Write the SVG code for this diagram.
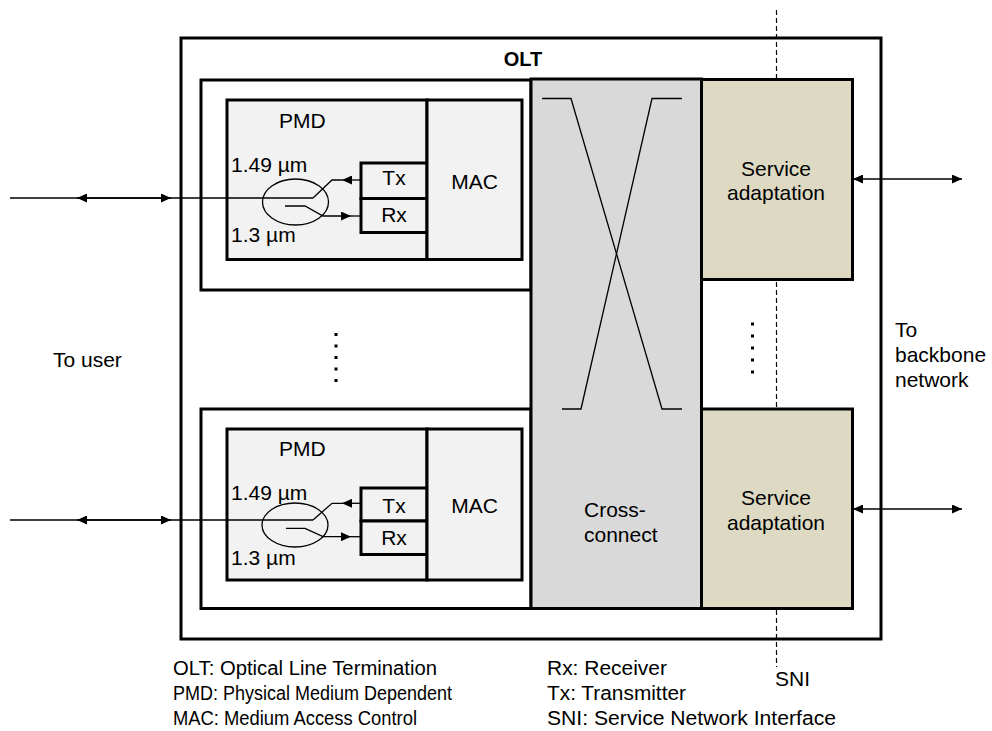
<svg xmlns="http://www.w3.org/2000/svg" width="992" height="731" viewBox="0 0 992 731">
  <defs>
    <style>
      text { font-family: "Liberation Sans", Arial, sans-serif; font-size: 21px; fill: #000; }
      .legend { font-size: 20px; }
      .bold { font-weight: bold; font-size: 20px; }
      .thick { stroke: #000; stroke-width: 3; }
      .thin { fill: none; stroke: #000; stroke-width: 1.3; }
      .white { fill: #fff; }
      .pale { fill: #f2f2f2; }
      .grey { fill: #d9d9d9; }
      .tan { fill: #ddd9c3; }
      .dash { fill: none; stroke: #000; stroke-width: 1.2; stroke-dasharray: 5 3; }
      .arr { fill: none; stroke: #000; stroke-width: 1.3; marker-end: url(#head); }
      .arr2 { fill: none; stroke: #000; stroke-width: 1.3; marker-start: url(#head); marker-end: url(#head); }
    </style>
    <marker id="head" viewBox="0 0 10 10" refX="10" refY="5" markerWidth="10" markerHeight="9" markerUnits="userSpaceOnUse" orient="auto-start-reverse" preserveAspectRatio="none">
      <path d="M0,0 L10,5 L0,10 z" fill="#000"/>
    </marker>
  </defs>

  <!-- OLT enclosure -->
  <g id="olt">
    <rect x="181" y="38" width="700" height="601" class="white thick"/>
    <text x="523" y="66" text-anchor="middle" class="bold">OLT</text>
  </g>

  <!-- SNI reference line -->
  <g id="sni">
    <line x1="776.5" y1="10" x2="776.5" y2="667" class="dash"/>
    <text x="775" y="686">SNI</text>
  </g>

  <!-- Line card 1 -->
  <g id="linecard-1">
    <rect x="201" y="80" width="330" height="210" class="white thick"/>
    <g id="pmd-1">
      <rect x="227" y="100" width="200" height="159.5" class="pale thick"/>
      <text x="279" y="128">PMD</text>
      <text x="231" y="172">1.49 µm</text>
      <text x="231" y="242">1.3 µm</text>
      <ellipse cx="295.5" cy="202" rx="33" ry="23" class="thin"/>
    </g>
    <g id="tx-1">
      <rect x="361" y="163" width="66" height="35.5" class="pale thick"/>
      <text x="394" y="185" text-anchor="middle">Tx</text>
    </g>
    <g id="rx-1">
      <rect x="361" y="198.5" width="66" height="34" class="pale thick"/>
      <text x="394" y="222" text-anchor="middle">Rx</text>
    </g>
    <g id="mac-1">
      <rect x="427" y="100" width="95" height="159.5" class="pale thick"/>
      <text x="474.5" y="189" text-anchor="middle">MAC</text>
    </g>
  </g>

  <!-- Line card 2 -->
  <g id="linecard-2">
    <rect x="201" y="409" width="330" height="199.5" class="white thick"/>
    <g id="pmd-2">
      <rect x="227" y="429" width="200" height="151" class="pale thick"/>
      <text x="279" y="456">PMD</text>
      <text x="231" y="500">1.49 µm</text>
      <text x="231" y="565">1.3 µm</text>
      <ellipse cx="295" cy="525" rx="33" ry="22" class="thin"/>
    </g>
    <g id="tx-2">
      <rect x="361" y="488" width="66" height="33" class="pale thick"/>
      <text x="394" y="513" text-anchor="middle">Tx</text>
    </g>
    <g id="rx-2">
      <rect x="361" y="521" width="66" height="33.5" class="pale thick"/>
      <text x="394" y="545" text-anchor="middle">Rx</text>
    </g>
    <g id="mac-2">
      <rect x="427" y="429" width="95" height="151" class="pale thick"/>
      <text x="474.5" y="513" text-anchor="middle">MAC</text>
    </g>
  </g>

  <!-- Cross-connect -->
  <g id="crossconnect">
    <rect x="531" y="79" width="170.5" height="529.5" class="grey thick"/>
    <path d="M542,98.5 H571 L662,409 H682" class="thin"/>
    <path d="M682,98.5 H652 L581,409 H562" class="thin"/>
    <text x="584" y="517">Cross-</text>
    <text x="584" y="542">connect</text>
  </g>

  <!-- Service adaptation blocks -->
  <g id="service-adaptation-1">
    <rect x="701.5" y="79.5" width="151" height="200" class="tan thick"/>
    <text x="776" y="176" text-anchor="middle">Service</text>
    <text x="776" y="200" text-anchor="middle">adaptation</text>
  </g>
  <g id="service-adaptation-2">
    <rect x="701.5" y="409" width="151" height="199.5" class="tan thick"/>
    <text x="776" y="505" text-anchor="middle">Service</text>
    <text x="776" y="530" text-anchor="middle">adaptation</text>
  </g>

  <!-- Continuation dots -->
  <g id="dots-left" fill="#000">
    <rect x="334.5" y="333" width="3" height="3"/>
    <rect x="334.5" y="344.5" width="3" height="3"/>
    <rect x="334.5" y="356" width="3" height="3"/>
    <rect x="334.5" y="367.5" width="3" height="3"/>
    <rect x="334.5" y="379" width="3" height="3"/>
  </g>
  <g id="dots-right" fill="#000">
    <rect x="751" y="322.5" width="3" height="3"/>
    <rect x="751" y="334.5" width="3" height="3"/>
    <rect x="751" y="346.5" width="3" height="3"/>
    <rect x="751" y="358.5" width="3" height="3"/>
    <rect x="751" y="370.5" width="3" height="3"/>
  </g>

  <!-- Connectors -->
  <g id="connectors">
    <!-- card 1 fibre, Tx and Rx paths -->
    <path d="M10,198 H313" class="thin"/>
    <path d="M77,198 H171" class="arr2"/>
    <path d="M313,198 L332,180 H342" class="thin"/>
    <path d="M361,180 H342" class="arr"/>
    <path d="M285,206 H305 L323,216 H351" class="arr"/>
    <path d="M351,216 H361" class="thin"/>
    <!-- card 2 fibre, Tx and Rx paths -->
    <path d="M10,520 H313" class="thin"/>
    <path d="M77,520 H171" class="arr2"/>
    <path d="M313,520 L332,503.3 H342" class="thin"/>
    <path d="M361,503.3 H342" class="arr"/>
    <path d="M286,528.3 H305 L323,536.7 H351" class="arr"/>
    <path d="M351,536.7 H361" class="thin"/>
    <!-- backbone side -->
    <path d="M853,179 H962" class="arr2"/>
    <path d="M853,509 H962" class="arr2"/>
  </g>

  <!-- Side labels -->
  <g id="labels">
    <text x="53" y="367">To user</text>
    <text x="895" y="337">To</text>
    <text x="895" y="362">backbone</text>
    <text x="895" y="387">network</text>
  </g>

  <!-- Abbreviations -->
  <g id="legend" class="legend">
    <text class="legend" x="173" y="675" textLength="264" lengthAdjust="spacingAndGlyphs">OLT: Optical Line Termination</text>
    <text class="legend" x="173" y="700" textLength="279" lengthAdjust="spacingAndGlyphs">PMD: Physical Medium Dependent</text>
    <text class="legend" x="173" y="725" textLength="244" lengthAdjust="spacingAndGlyphs">MAC: Medium Access Control</text>
    <text class="legend" x="547" y="675" textLength="120" lengthAdjust="spacingAndGlyphs">Rx: Receiver</text>
    <text class="legend" x="547" y="700" textLength="139" lengthAdjust="spacingAndGlyphs">Tx: Transmitter</text>
    <text class="legend" x="547" y="725" textLength="289" lengthAdjust="spacingAndGlyphs">SNI: Service Network Interface</text>
  </g>
</svg>
